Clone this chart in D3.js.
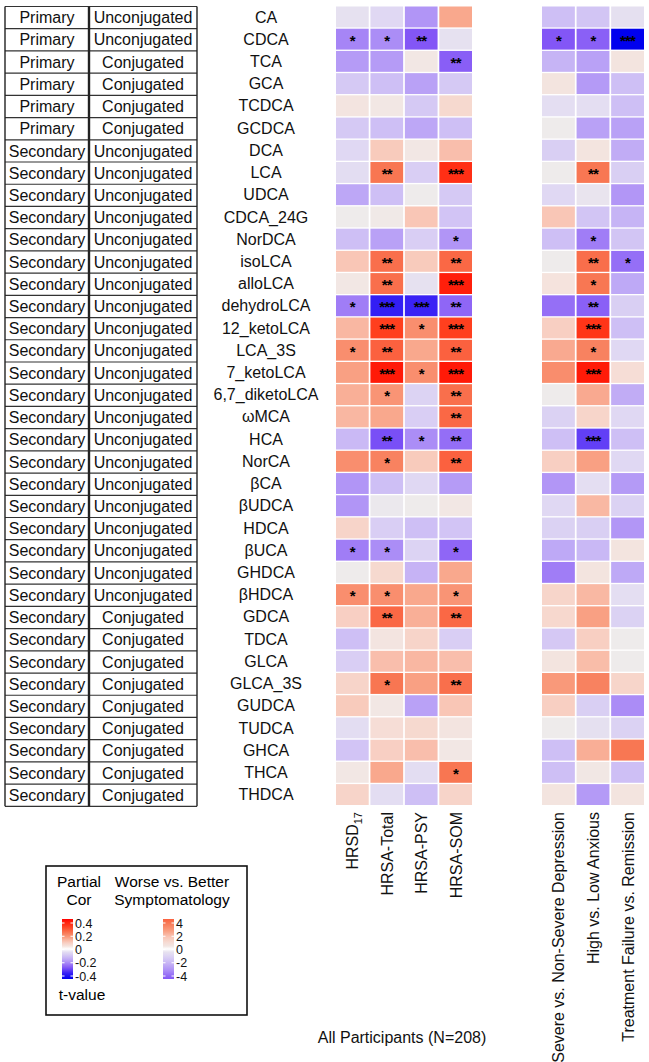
<!DOCTYPE html>
<html>
<head>
<meta charset="utf-8">
<script src="https://cdn.jsdelivr.net/npm/d3@7"></script>
<style>
  html, body { margin: 0; padding: 0; background: #fff; }
  svg { display: block; font-family: "Liberation Sans", Arial, sans-serif; }
</style>
</head>
<body>
<svg id="chart" width="649" height="1062"></svg>
<script>
// ---------------- DATA ----------------
const acids = ["CA","CDCA","TCA","GCA","TCDCA","GCDCA","DCA","LCA","UDCA","CDCA_24G","NorDCA","isoLCA","alloLCA","dehydroLCA","12_ketoLCA","LCA_3S","7_ketoLCA","6,7_diketoLCA","ωMCA","HCA","NorCA","βCA","βUDCA","HDCA","βUCA","GHDCA","βHDCA","GDCA","TDCA","GLCA","GLCA_3S","GUDCA","TUDCA","GHCA","THCA","THDCA"];
const acidClass = ["Primary","Primary","Primary","Primary","Primary","Primary","Secondary","Secondary","Secondary","Secondary","Secondary","Secondary","Secondary","Secondary","Secondary","Secondary","Secondary","Secondary","Secondary","Secondary","Secondary","Secondary","Secondary","Secondary","Secondary","Secondary","Secondary","Secondary","Secondary","Secondary","Secondary","Secondary","Secondary","Secondary","Secondary","Secondary"];
const conjugation = ["Unconjugated","Unconjugated","Conjugated","Conjugated","Conjugated","Conjugated","Unconjugated","Unconjugated","Unconjugated","Unconjugated","Unconjugated","Unconjugated","Unconjugated","Unconjugated","Unconjugated","Unconjugated","Unconjugated","Unconjugated","Unconjugated","Unconjugated","Unconjugated","Unconjugated","Unconjugated","Unconjugated","Unconjugated","Unconjugated","Unconjugated","Conjugated","Conjugated","Conjugated","Conjugated","Conjugated","Conjugated","Conjugated","Conjugated","Conjugated"];

const corrColumns = ["HRSD17","HRSA-Total","HRSA-PSY","HRSA-SOM"];
const groupColumns = ["Severe vs. Non-Severe Depression","High vs. Low Anxious","Treatment Failure vs. Remission"];

// partial correlations (all participants)
const hrsd17    = [-0.03,-0.19,-0.16,-0.08,0.03,-0.08,-0.05,-0.04,-0.14,0.00,-0.10,0.10,0.02,-0.20,0.12,0.18,0.15,0.13,0.12,-0.11,0.18,-0.17,-0.17,0.07,-0.20,0.00,0.18,0.08,-0.10,-0.07,0.07,0.09,-0.04,-0.09,0.02,0.07];
const hrsaTotal = [-0.05,-0.18,-0.16,-0.10,0.02,-0.10,0.09,0.22,-0.10,0.01,-0.15,0.23,0.23,-0.33,0.30,0.25,0.37,0.17,0.14,-0.26,0.20,-0.10,-0.01,-0.07,-0.18,0.06,0.18,0.24,0.03,0.11,0.22,0.02,0.05,0.08,0.14,-0.04];
const hrsaPsy   = [-0.17,-0.25,0.02,-0.15,-0.08,-0.14,0.02,-0.07,0.00,0.10,-0.07,0.09,-0.03,-0.32,0.18,0.14,0.18,-0.06,-0.07,-0.18,0.09,-0.05,0.00,-0.10,-0.06,-0.12,0.14,0.13,0.07,0.12,0.15,-0.15,0.06,0.11,-0.04,-0.10];
const hrsaSom   = [0.14,-0.03,-0.24,-0.08,0.06,-0.10,0.11,0.33,-0.08,-0.09,-0.17,0.24,0.36,-0.23,0.30,0.25,0.37,0.23,0.24,-0.22,0.25,-0.16,0.02,-0.09,-0.23,0.14,0.17,0.24,-0.07,0.11,0.23,0.10,0.03,0.02,0.22,0.07];

// t-values (worse vs. better symptomatology)
const severeT    = [-1.6,-4.0,-1.9,0.5,-0.6,0.0,-1.1,0.0,-0.8,1.6,-1.6,0.0,0.6,-3.5,1.3,2.2,2.9,0.0,-1.0,-1.6,1.3,-2.7,-0.8,-1.0,-2.2,-3.2,1.1,1.0,-1.3,0.5,2.6,1.3,0.0,-1.6,-1.6,0.5];
const anxiousT   = [-1.4,-3.8,-2.4,-2.6,-0.6,-2.4,0.5,3.5,-0.3,-1.4,-3.2,3.7,3.5,-3.8,5.1,3.2,5.9,2.2,1.1,-4.5,2.4,-0.6,1.9,-1.1,-1.8,0.5,1.9,2.4,1.3,1.8,3.2,-1.1,-0.5,2.1,0.3,-2.6];
const treatmentT = [-0.5,-6.4,0.5,-1.6,-1.6,-2.4,-2.1,-1.1,-2.7,-1.9,-1.4,-3.5,-2.2,-1.1,-1.6,-0.8,0.8,-2.1,-0.8,-1.6,-0.8,-2.6,-1.0,-2.7,0.5,-2.2,-0.6,-1.0,0.0,0.0,1.1,-2.9,-1.0,3.5,-1.6,0.5];

// significance marks
const sigHrsd17    = {"CDCA":"*","dehydroLCA":"*","LCA_3S":"*","βUCA":"*","βHDCA":"*"};
const sigHrsaTotal = {"CDCA":"*","LCA":"**","isoLCA":"**","alloLCA":"**","dehydroLCA":"***","12_ketoLCA":"***","LCA_3S":"**","7_ketoLCA":"***","6,7_diketoLCA":"*","HCA":"**","NorCA":"*","βUCA":"*","βHDCA":"*","GDCA":"**","GLCA_3S":"*"};
const sigHrsaPsy   = {"CDCA":"**","dehydroLCA":"***","12_ketoLCA":"*","7_ketoLCA":"*","HCA":"*"};
const sigHrsaSom   = {"TCA":"**","LCA":"***","NorDCA":"*","isoLCA":"**","alloLCA":"***","dehydroLCA":"**","12_ketoLCA":"***","LCA_3S":"**","7_ketoLCA":"***","6,7_diketoLCA":"**","ωMCA":"**","HCA":"**","NorCA":"**","βUCA":"*","βHDCA":"*","GDCA":"**","GLCA_3S":"**","THCA":"*"};
const sigSevere    = {"CDCA":"*"};
const sigAnxious   = {"CDCA":"*","LCA":"**","NorDCA":"*","isoLCA":"**","alloLCA":"*","dehydroLCA":"**","12_ketoLCA":"***","LCA_3S":"*","7_ketoLCA":"***","HCA":"***"};
const sigTreatment = {"CDCA":"***","isoLCA":"*"};

const corrTicks = [0.4,0.2,0,-0.2,-0.4];
const tTicks = [4,2,0,-2,-4];

// ---------------- BUILD ----------------
const corrSeries = [hrsd17,hrsaTotal,hrsaPsy,hrsaSom];
const corrSig = [sigHrsd17,sigHrsaTotal,sigHrsaPsy,sigHrsaSom];
const tSeries = [severeT,anxiousT,treatmentT];
const tSig = [sigSevere,sigAnxious,sigTreatment];

const corrCells = [], tCells = [];
corrColumns.forEach((c,j)=>acids.forEach((a,i)=>corrCells.push({col:c,row:a,v:corrSeries[j][i],s:corrSig[j][a]||""})));
groupColumns.forEach((c,j)=>acids.forEach((a,i)=>tCells.push({col:c,row:a,v:tSeries[j][i],s:tSig[j][a]||""})));

const svg = d3.select("#chart");

// colour scale on correlation units
const corrColor = d3.scaleLinear()
  .domain([-0.40,-0.32,-0.25,-0.17,-0.10,-0.04,0,0.04,0.10,0.15,0.22,0.30,0.37,0.40])
  .range(["#0000ee","#3a22f5","#8356f6","#b195f6","#cebff5","#e3ddf2","#eeebeb","#f5e2dc","#f9c6b6","#f9a083","#f87652","#ff3f1e","#ff1a08","#ff0000"])
  .interpolate(d3.interpolateRgb).clamp(true);
// t-value mapped onto the same palette
const tToCorr = d3.scaleLinear().domain([-6.4,6.4]).range([-0.4,0.4]);
const tColor = t => corrColor(tToCorr(t));

const y = d3.scaleBand().domain(acids).range([6.5,805]).paddingInner(0.06);
const xL = d3.scaleBand().domain(corrColumns).range([336,472]).paddingInner(0.05);
const xR = d3.scaleBand().domain(groupColumns).range([542,644]).paddingInner(0.05);
const step = y.step();

// ---------------- TABLE ----------------
const tbl = svg.append("g");
const tblTop = 6.5;
const rowsG = tbl.selectAll("g.r").data(acids).join("g");
rowsG.append("text")
  .attr("x",47).attr("y",(d,i)=>tblTop+step*(i+0.5)+5.6)
  .attr("text-anchor","middle").attr("font-size",16).attr("fill","#111")
  .text((d,i)=>acidClass[i]);
rowsG.append("text")
  .attr("x",143).attr("y",(d,i)=>tblTop+step*(i+0.5)+5.6)
  .attr("text-anchor","middle").attr("font-size",16).attr("fill","#111")
  .text((d,i)=>conjugation[i]);
tbl.selectAll("line.h").data(d3.range(acids.length+1)).join("line")
  .attr("x1",5).attr("x2",197)
  .attr("y1",i=>tblTop+step*i).attr("y2",i=>tblTop+step*i)
  .attr("stroke","#333").attr("stroke-width",1.2);
[[5,1.4],[89,2.4],[197,1.4]].forEach(([x,w])=>{
  tbl.append("line").attr("x1",x).attr("x2",x).attr("y1",tblTop).attr("y2",tblTop+step*acids.length)
    .attr("stroke","#222").attr("stroke-width",w);
});

// row labels
svg.append("g").selectAll("text").data(acids).join("text")
  .attr("x",266).attr("y",d=>y(d)+y.bandwidth()/2+5.6)
  .attr("text-anchor","middle").attr("font-size",16).attr("fill","#111")
  .text(d=>d);

// ---------------- HEATMAPS ----------------
function drawHeat(cells,x,color){
  const g = svg.append("g");
  g.selectAll("rect").data(cells).join("rect")
    .attr("x",d=>x(d.col)).attr("y",d=>y(d.row))
    .attr("width",x.bandwidth()).attr("height",y.bandwidth())
    .attr("fill",d=>color(d.v));
  g.selectAll("text").data(cells.filter(d=>d.s)).join("text")
    .attr("x",d=>x(d.col)+x.bandwidth()/2)
    .attr("y",d=>y(d.row)+y.bandwidth()/2+6.5)
    .attr("text-anchor","middle").attr("font-size",15).attr("font-weight","bold")
    .attr("fill","#000").attr("letter-spacing","-0.8")
    .text(d=>d.s);
}
drawHeat(corrCells,xL,corrColor);
drawHeat(tCells,xR,tColor);

// column labels
function colLabels(cols,x){
  const g = svg.append("g");
  cols.forEach(c=>{
    const t = g.append("text")
      .attr("transform",`translate(${x(c)+x.bandwidth()/2+6},812) rotate(-90)`)
      .attr("text-anchor","end").attr("font-size",16).attr("fill","#111");
    if(c==="HRSD17"){
      t.append("tspan").text("HRSD");
      t.append("tspan").attr("font-size",11).attr("dy",4).text("17");
    } else t.text(c);
  });
}
colLabels(corrColumns,xL);
colLabels(groupColumns,xR);

svg.append("text").attr("x",402).attr("y",1043).attr("text-anchor","middle")
  .attr("font-size",16).attr("fill","#111").text("All Participants (N=208)");

// ---------------- LEGEND ----------------
const lg = svg.append("g");
lg.append("rect").attr("x",46).attr("y",866).attr("width",201).attr("height",149)
  .attr("fill","#fff").attr("stroke","#111").attr("stroke-width",1.6);
lg.append("text").attr("x",79).attr("y",887).attr("text-anchor","middle").attr("font-size",15.5).text("Partial");
lg.append("text").attr("x",79).attr("y",905).attr("text-anchor","middle").attr("font-size",15.5).text("Cor");
lg.append("text").attr("x",172).attr("y",887).attr("text-anchor","middle").attr("font-size",15.5).text("Worse vs. Better");
lg.append("text").attr("x",172).attr("y",905).attr("text-anchor","middle").attr("font-size",15.5).text("Symptomatology");
lg.append("text").attr("x",82).attr("y",1000).attr("text-anchor","middle").attr("font-size",15.5).text("t-value");

const defs = svg.append("defs");
function gradient(id,fn,lo,hi){
  const gr = defs.append("linearGradient").attr("id",id).attr("x1",0).attr("y1",1).attr("x2",0).attr("y2",0);
  d3.range(0,1.0001,0.05).forEach(p=>{
    const v = lo+(hi-lo)*p;
    gr.append("stop").attr("offset",p).attr("stop-color",Math.abs(v)<1e-9?"#ffffff":fn(v));
  });
}
gradient("gCorr",corrColor,-0.4,0.4);
gradient("gT",tColor,-4,4);

function colorbar(x,ticks,grad,scaleDomain){
  const yb = d3.scaleLinear().domain(scaleDomain).range([976,923]);
  lg.append("rect").attr("x",x).attr("y",919).attr("width",11).attr("height",60).attr("fill",`url(#${grad})`);
  ticks.forEach(t=>{
    lg.append("line").attr("x1",x).attr("x2",x+2.5).attr("y1",yb(t)).attr("y2",yb(t)).attr("stroke","#fff").attr("stroke-width",1);
    lg.append("line").attr("x1",x+8.5).attr("x2",x+11).attr("y1",yb(t)).attr("y2",yb(t)).attr("stroke","#fff").attr("stroke-width",1);
    lg.append("text").attr("x",x+13).attr("y",yb(t)+4.5).attr("font-size",12.5).attr("fill","#111").text(t);
  });
}
colorbar(62,corrTicks,"gCorr",[-0.4,0.4]);
colorbar(163,tTicks,"gT",[-4,4]);
</script>
</body>
</html>
